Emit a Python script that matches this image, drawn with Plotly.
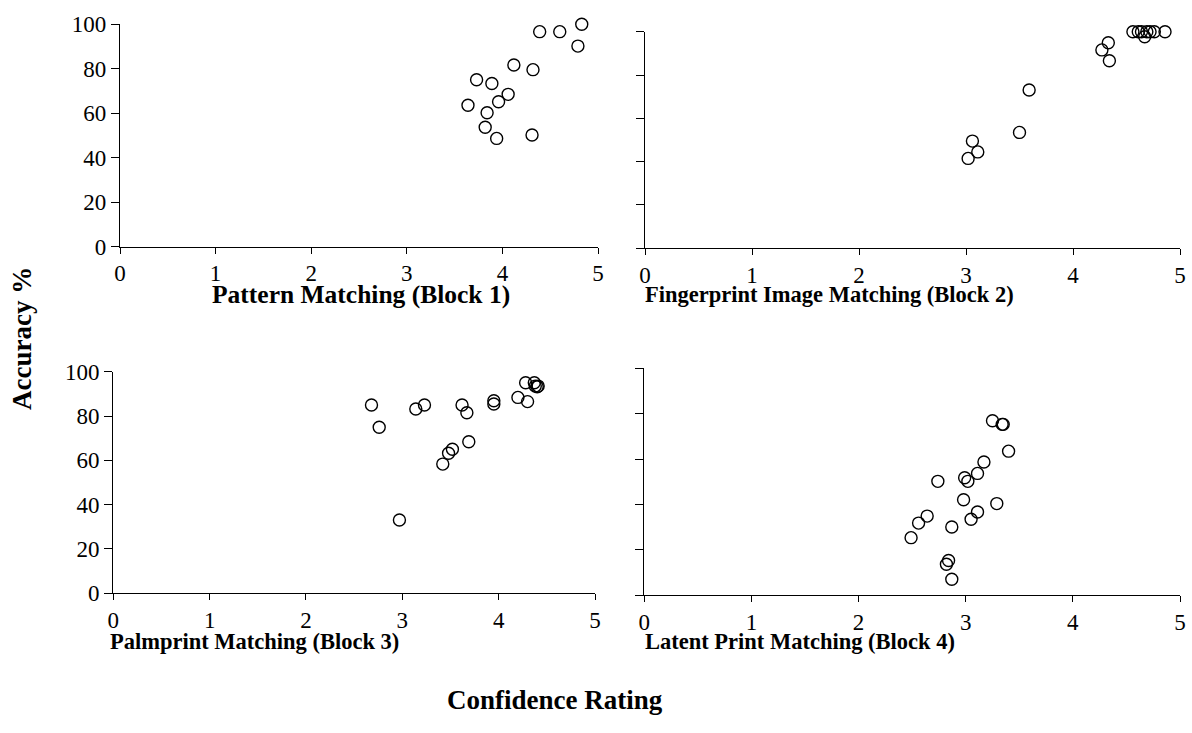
import plotly.graph_objects as go

# Panel 1: Pattern Matching (Block 1)
b1_conf = [4.39, 4.60, 4.83, 4.79, 4.12, 4.32, 3.73, 3.89, 4.06, 3.96, 3.64, 3.84, 3.82, 3.94, 4.31]
b1_acc = [96.7, 96.7, 100.0, 90.2, 81.7, 79.6, 75.1, 73.4, 68.5, 65.2, 63.6, 60.2, 53.7, 48.7, 50.2]

# Panel 2: Fingerprint Image Matching (Block 2)
b2_conf = [4.56, 4.61, 4.64, 4.67, 4.69, 4.72, 4.76, 4.86, 4.33, 4.27, 4.34, 3.59, 3.50, 3.06, 3.11, 3.02]
b2_acc = [100.0, 100.0, 100.0, 97.7, 100.0, 100.0, 100.0, 100.0, 94.9, 91.6, 86.6, 73.1, 53.5, 49.5, 44.5, 41.5]

# Panel 3: Palmprint Matching (Block 3)
b3_conf = [2.68, 2.76, 3.14, 3.23, 2.97, 3.62, 3.67, 3.95, 3.95, 4.20, 4.30, 4.28, 4.37, 4.38, 4.40, 4.41,
           3.69, 3.52, 3.48, 3.42]
b3_acc = [85.0, 74.9, 83.2, 85.0, 33.1, 85.0, 81.5, 86.9, 85.4, 88.4, 86.5, 95.0, 95.0, 93.5, 93.2, 93.5,
          68.4, 65.0, 63.2, 58.3]

# Panel 4: Latent Print Matching (Block 4)
b4_conf = [3.25, 3.34, 3.35, 3.40, 3.17, 3.11, 2.99, 3.02, 2.74, 2.98, 3.29, 3.11, 3.05, 2.64, 2.56,
           2.87, 2.49, 2.84, 2.82, 2.87]
b4_acc = [76.9, 75.3, 75.3, 63.5, 58.7, 53.7, 51.8, 50.2, 50.2, 42.1, 40.4, 36.7, 33.5, 34.9, 31.8,
          30.1, 25.4, 15.3, 13.7, 7.1]

titles = ["Pattern Matching (Block 1)", "Fingerprint Image Matching (Block 2)",
          "Palmprint Matching (Block 3)", "Latent Print Matching (Block 4)"]
x_ticks = [0, 1, 2, 3, 4, 5]
y_ticks = [0, 20, 40, 60, 80, 100]

W, H = 1192, 733
# plot areas in pixels: (left, right, top, bottom)
areas = [(120, 598, 24.3, 246.7), (645, 1180, 31.7, 248.3),
         (113.3, 595, 371.7, 593.3), (644.3, 1180, 368.3, 595.3)]
show_ylabels = [True, False, True, False]
title_pos = [(361, 294, "center", 25.5), (643, 294, "left", 22.5),
             (108, 641, "left", 22.5), (643, 641, "left", 22.5)]

FONT = "Liberation Serif"
fig = go.Figure()
data = [(b1_conf, b1_acc), (b2_conf, b2_acc), (b3_conf, b3_acc), (b4_conf, b4_acc)]
for i, (xs, ys) in enumerate(data):
    n = "" if i == 0 else str(i + 1)
    fig.add_trace(go.Scatter(x=xs, y=ys, mode="markers", xaxis="x" + n, yaxis="y" + n,
                             marker=dict(symbol="circle-open", size=12, color="black",
                                         line=dict(width=1.4, color="black")),
                             showlegend=False, cliponaxis=False))
    l, r, t, b = areas[i]
    xa = dict(domain=[l / W, r / W], range=[0, 5], tickvals=x_ticks, showgrid=False, zeroline=False,
              showline=True, linecolor="black", linewidth=1.3, ticks="outside", ticklen=6,
              tickcolor="black", tickwidth=1.3, tickfont=dict(family=FONT, size=23, color="black"),
              anchor="y" + n, fixedrange=True, automargin=False)
    ya = dict(domain=[1 - b / H, 1 - t / H], range=[0, 100], tickvals=y_ticks, showgrid=False,
              zeroline=False, showline=True, linecolor="black", linewidth=1.3, ticks="outside",
              ticklen=8, tickcolor="black", tickwidth=1.3, showticklabels=show_ylabels[i],
              tickfont=dict(family=FONT, size=23, color="black"), anchor="x" + n, fixedrange=True,
              automargin=False)
    fig.update_layout(**{"xaxis" + n: xa, "yaxis" + n: ya})
    tx, ty, anc, fs = title_pos[i]
    fig.add_annotation(text="<b>" + titles[i] + "</b>", x=tx / W, y=1 - ty / H, xref="paper",
                       yref="paper", xanchor=anc, yanchor="middle", showarrow=False,
                       font=dict(family=FONT, size=fs, color="black"))

fig.add_annotation(text="<b>Accuracy %</b>", x=22 / W, y=1 - 339 / H, xref="paper", yref="paper",
                   textangle=-90, xanchor="center", yanchor="middle", showarrow=False,
                   font=dict(family=FONT, size=27, color="black"))
fig.add_annotation(text="<b>Confidence Rating</b>", x=555 / W, y=1 - 700 / H, xref="paper",
                   yref="paper", xanchor="center", yanchor="middle", showarrow=False,
                   font=dict(family=FONT, size=27, color="black"))

fig.update_layout(width=W, height=H, margin=dict(l=0, r=0, t=0, b=0, autoexpand=False),
                  paper_bgcolor="white", plot_bgcolor="white")
fig.write_html("out.html")
